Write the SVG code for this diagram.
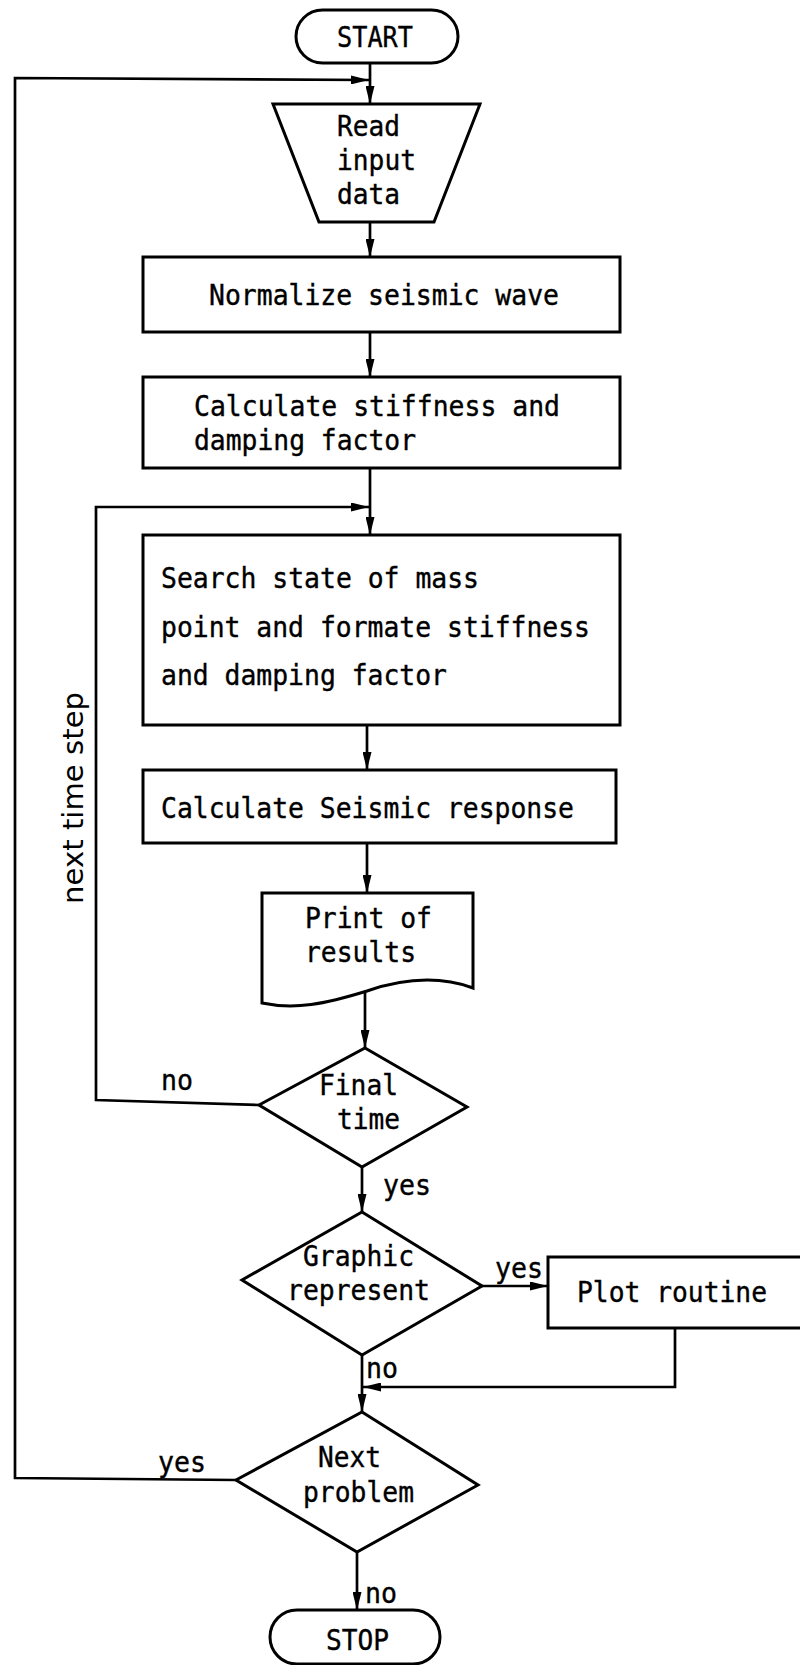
<svg xmlns="http://www.w3.org/2000/svg" width="800" height="1665" viewBox="0 0 800 1665">
<style>
.n{fill:#fff;stroke:#000;stroke-width:3;stroke-linejoin:miter}
.c{fill:none;stroke:#000;stroke-width:2.7}
.t{font-family:"DejaVu Sans Mono","Liberation Mono",monospace;font-size:29px;fill:#000;stroke:#000;stroke-width:0.4}
.s{font-family:"DejaVu Sans","Liberation Sans",sans-serif;font-size:29px;fill:#000}
</style>
<defs>
<marker id="ah" viewBox="0 0 18 9" refX="18" refY="4.5" markerWidth="18" markerHeight="9" markerUnits="userSpaceOnUse" orient="auto">
<path d="M0,0 L18,4.5 L0,9 z" fill="#000"/>
</marker>
</defs>
<rect width="800" height="1665" fill="#fff"/>
<g id="connectors">
<path class="c" d="M370,63 L370,104" marker-end="url(#ah)"/>
<path class="c" d="M236,1480 L15,1478 L15,78 L369,80" marker-end="url(#ah)"/>
<path class="c" d="M370,222 L370,257" marker-end="url(#ah)"/>
<path class="c" d="M370,332 L370,377" marker-end="url(#ah)"/>
<path class="c" d="M370,468 L370,535" marker-end="url(#ah)"/>
<path class="c" d="M259,1105 L96,1100 L96,507 L369,507" marker-end="url(#ah)"/>
<path class="c" d="M367,725 L367,770" marker-end="url(#ah)"/>
<path class="c" d="M367,843 L367,893" marker-end="url(#ah)"/>
<path class="c" d="M365,992 L365,1048" marker-end="url(#ah)"/>
<path class="c" d="M362,1167 L362,1212" marker-end="url(#ah)"/>
<path class="c" d="M482,1286 L548,1286" marker-end="url(#ah)"/>
<path class="c" d="M675,1328 L675,1387 L363,1387" marker-end="url(#ah)"/>
<path class="c" d="M362,1355 L362,1412" marker-end="url(#ah)"/>
<path class="c" d="M357,1552 L357,1610" marker-end="url(#ah)"/>
<text class="t" x="161" y="1090" textLength="32" lengthAdjust="spacingAndGlyphs">no</text>
<text class="t" x="383" y="1195" textLength="48" lengthAdjust="spacingAndGlyphs">yes</text>
<text class="t" x="495" y="1278" textLength="48" lengthAdjust="spacingAndGlyphs">yes</text>
<text class="t" x="366" y="1378" textLength="32" lengthAdjust="spacingAndGlyphs">no</text>
<text class="t" x="158" y="1472" textLength="48" lengthAdjust="spacingAndGlyphs">yes</text>
<text class="t" x="365" y="1603" textLength="32" lengthAdjust="spacingAndGlyphs">no</text>
<text class="s" transform="translate(83,798) rotate(-90)" x="0" y="0" text-anchor="middle" textLength="212" lengthAdjust="spacing">next time step</text>
</g>
<g id="start">
<rect class="n" x="296" y="10" width="162" height="53" rx="26.5"/>
<text class="t" x="337" y="47" textLength="76" lengthAdjust="spacingAndGlyphs">START</text>
</g>
<g id="read">
<path class="n" d="M273,104 L480,104 L434,222 L319,222 Z"/>
<text class="t" x="337" y="136" textLength="63" lengthAdjust="spacingAndGlyphs">Read</text>
<text class="t" x="337" y="170" textLength="79" lengthAdjust="spacingAndGlyphs">input</text>
<text class="t" x="337" y="204" textLength="63" lengthAdjust="spacingAndGlyphs">data</text>
</g>
<g id="normalize">
<rect class="n" x="143" y="257" width="477" height="75"/>
<text class="t" x="209" y="305" textLength="350" lengthAdjust="spacingAndGlyphs">Normalize seismic wave</text>
</g>
<g id="calc-stiffness">
<rect class="n" x="143" y="377" width="477" height="91"/>
<text class="t" x="194" y="416" textLength="366" lengthAdjust="spacingAndGlyphs">Calculate stiffness and</text>
<text class="t" x="194" y="450" textLength="222" lengthAdjust="spacingAndGlyphs">damping factor</text>
</g>
<g id="search">
<rect class="n" x="143" y="535" width="477" height="190"/>
<text class="t" x="161" y="588" textLength="318" lengthAdjust="spacingAndGlyphs">Search state of mass</text>
<text class="t" x="161" y="637" textLength="429" lengthAdjust="spacingAndGlyphs">point and formate stiffness</text>
<text class="t" x="161" y="685" textLength="286" lengthAdjust="spacingAndGlyphs">and damping factor</text>
</g>
<g id="seismic">
<rect class="n" x="143" y="770" width="473" height="73"/>
<text class="t" x="161" y="818" textLength="413" lengthAdjust="spacingAndGlyphs">Calculate Seismic response</text>
</g>
<g id="print">
<path class="n" d="M262,893 L473,893 L473,988 C440,976 405,978 367,991 C325,1004 295,1010 262,1003 Z"/>
<text class="t" x="305" y="928" textLength="127" lengthAdjust="spacingAndGlyphs">Print of</text>
<text class="t" x="305" y="962" textLength="111" lengthAdjust="spacingAndGlyphs">results</text>
</g>
<g id="final-time">
<path class="n" d="M365,1048 L467,1107 L362,1167 L259,1105 Z"/>
<text class="t" x="319" y="1095" textLength="79" lengthAdjust="spacingAndGlyphs">Final</text>
<text class="t" x="337" y="1129" textLength="63" lengthAdjust="spacingAndGlyphs">time</text>
</g>
<g id="graphic">
<path class="n" d="M362,1212 L482,1286 L362,1355 L242,1280 Z"/>
<text class="t" x="303" y="1266" textLength="111" lengthAdjust="spacingAndGlyphs">Graphic</text>
<text class="t" x="287" y="1300" textLength="143" lengthAdjust="spacingAndGlyphs">represent</text>
</g>
<g id="plot">
<rect class="n" x="548" y="1257" width="270" height="71"/>
<text class="t" x="577" y="1302" textLength="190" lengthAdjust="spacingAndGlyphs">Plot routine</text>
</g>
<g id="next-problem">
<path class="n" d="M362,1412 L478,1485 L357,1552 L236,1480 Z"/>
<text class="t" x="318" y="1467" textLength="63" lengthAdjust="spacingAndGlyphs">Next</text>
<text class="t" x="303" y="1502" textLength="111" lengthAdjust="spacingAndGlyphs">problem</text>
</g>
<g id="stop">
<rect class="n" x="270" y="1610" width="170" height="54" rx="27"/>
<text class="t" x="326" y="1650" textLength="63" lengthAdjust="spacingAndGlyphs">STOP</text>
</g>
</svg>
